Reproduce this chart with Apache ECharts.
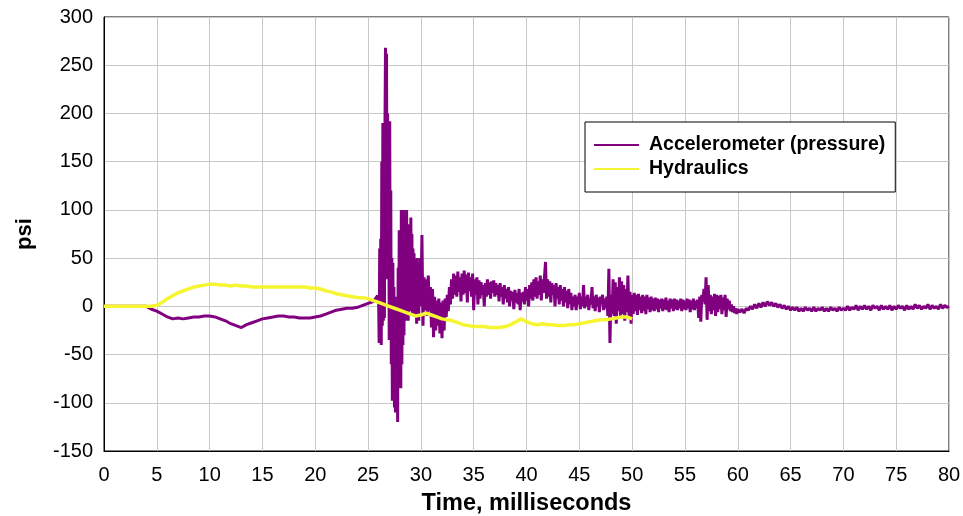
<!DOCTYPE html>
<html>
<head>
<meta charset="utf-8">
<script src="https://cdn.jsdelivr.net/npm/echarts@6/dist/echarts.min.js"></script>
<style>html,body{margin:0;padding:0;background:#fff}#c{width:963px;height:516px}</style>
</head>
<body>
<div id="c"></div>
<script>
// Tick labels
const xTicks = [0,5,10,15,20,25,30,35,40,45,50,55,60,65,70,75,80];
const yTicks = [-150,-100,-50,0,50,100,150,200,250,300];
const seriesNames = ['Accelerometer (pressure)', 'Hydraulics'];

// Accelerometer (pressure), psi — segment A: from 0 ms, every 0.5 ms
const accelStartA = 0, accelStepA = 0.5;
const accelA = [0,0,0,0,0,0,0,0,0,-3,-5,-8,-11,-13,-12,-13,-12,-11,-11,-10,
  -10,-11,-13,-15,-18,-20,-22,-19,-17,-15,-13,-12,-11,-10,-10,-11,-11,-12,-12,-12,
  -11,-10,-8,-6,-4,-3,-2,-2,-1,1,3,5];

// segment B1: from 25.6 ms, every 0.1 ms
const accelStartB1 = 25.6, accelStepB1 = 0.1;
const accelB1 = [6,8,8,11];

// segment B2 (main burst): from 26.0 ms, every 0.05 ms
const accelStartB2 = 26.0, accelStepB2 = 0.05;
const accelB2 = [
  5,-38,60,-30,70,-40,150,-20,190,-15,
  170,-12,185,268,40,262,28,200,30,190,
  -35,192,-20,120,-60,50,-98,45,-90,20,
  -105,10,-110,5,-100,0,-120,40,-80,79,
  -70,60,-85,100,-60,95,-40,100,-30,98,
  -10,90,-15,100,-5,80,-15,85,0,70,
  -5,92,10,75,-7,60,5,55,-10,48,
  5,45,-18,50,0,40,-15,45,2,50];

// segment B3: from 30.0 ms, every 0.1 ms
const accelStartB3 = 30.0, accelStepB3 = 0.1;
const accelB3 = [
  0,74,-20,30,-4,28,-10,32,-5,20,
  -22,18,-32,10,-25,6,-20,8,-28,4,
  -33,6,-25,8,-11,12,-5,20,2,28,
  8,34,12,32,10,36,15,30,5,34,
  12,37,14,33,4,35,16,30,10,34,
  -4,28,12,30,2,27,8,25,12,22,
  0,24,10,28,12,25,8,26,14,27,
  10,24,12,22,5,24,10,20,2,22,
  8,18,4,20,0,16,6,15,-3,17,
  4,14,2,18,-4,14,5,15,2,20,
  6,18,0,22,8,25,6,28,10,30,
  8,26,12,32,6,28,14,30,46,8,
  28,10,26,4,24,12,22,0,24,8,
  20,2,22,6,18,0,20,4,16,-2,
  18,2,14,-4,10,0,12,-4,10,2,
  14,-3,10,0,22,-2,10,0,12,-4,
  8,2,20,-2,10,-5,12,0,9,-6,
  10,2,12,-4,8,-2,10,-10,39,-38,
  12,-8,28,-10,25,-18,20,-5,30,-12,
  26,-8,22,-15,18,-6,32,-10,15,-18,
  12,-8,14,-5,12,-9,13,-4,10,-7,
  12,-5,10,-8,12,-3,9,-6,10,-4,
  8,-5,9,-3,8,-6,7,-2,8,-5,
  7,-3,9,-4,6,-6,8,-2,7,-5,
  8,-3,7,-4,6,-2,8,-5,7,-3,
  6,-4,8,-2,7,-6,6,-3,8,-4,
  6,-2,7,-12,10,-16,12,5,18,2,
  30,-14,22,-5,12,-8,10,-4,13,-10,
  12,-6,11,-3,12,-8,9,-4,12,-11,
  8,-3,6,-5,2,-6,0,-7,-2,-8];

// segment C: from 60 ms, every 0.2 ms
const accelStartC = 60, accelStepC = 0.2;
const accelC = [-3,-6,-3,-7,-2,-4,0,-3,2,-2,3,-1,4,0,5,1,4,0,3,-1,
  2,-2,1,-3,0,-4,-1,-4,-1,-5,-2,-5,-1,-4,-2,-5,-1,-5,-2,-4,
  -1,-5,-2,-5,-1,-4,-2,-5,-1,-4,-2,-4,0,-4,-1,-3,1,-4,0,-3,
  1,-3,0,-4,1,-2,0,-4,1,-3,0,-3,1,-4,0,-3,1,-2,0,-4,
  1,-3,0,-3,2,-2,1,-3,0,-2,2,-3,1,-2,0,-3,2,-2,1,-1,0];

// Hydraulics, psi — from 0 ms, every 0.5 ms
const hydStart = 0, hydStep = 0.5;
const hydraulics = [0,0,0,0,0,0,0,0,0,0,
  1,4,8,11,14,16,18,20,21,22,
  23,23,22,22,21,22,21,21,20,20,
  20,20,20,20,20,20,20,20,20,19,
  19,18,16,15,13,12,11,10,9,9,
  8,6,4,2,0,-2,-4,-6,-8,-10,
  -9,-7,-9,-11,-13,-14,-15,-17,-19,-20,
  -21,-21,-21,-22,-22,-22,-21,-19,-16,-13,
  -16,-18,-19,-18,-19,-19,-20,-20,-19,-19,
  -18,-17,-16,-15,-14,-14,-13,-12,-11,-11,
  -13];

function toPairs(start, step, vals) {
  return vals.map((v, i) => [+(start + i * step).toFixed(3), v]);
}
const accelData = [].concat(
  toPairs(accelStartA, accelStepA, accelA),
  toPairs(accelStartB1, accelStepB1, accelB1),
  toPairs(accelStartB2, accelStepB2, accelB2),
  toPairs(accelStartB3, accelStepB3, accelB3),
  toPairs(accelStartC, accelStepC, accelC));
const hydData = toPairs(hydStart, hydStep, hydraulics);

const FONT = "'Liberation Sans', Arial, sans-serif";
const chart = echarts.init(document.getElementById('c'), null, {renderer: 'canvas'});
chart.setOption({
  animation: false,
  backgroundColor: '#fff',
  grid: {left: 104, right: 14, top: 17, bottom: 65, show: true, borderColor: '#000', borderWidth: 1,
         backgroundColor: 'transparent', containLabel: false, outerBoundsMode: 'none'},
  xAxis: {
    type: 'value', min: xTicks[0], max: xTicks[xTicks.length - 1], interval: 5,
    name: 'Time, milliseconds', nameLocation: 'middle', nameGap: 41,
    nameTextStyle: {fontFamily: FONT, fontSize: 23.5, fontWeight: 'bold', color: '#000'},
    axisLine: {show: true, onZero: false, lineStyle: {color: '#000', width: 1}},
    axisTick: {show: false},
    axisLabel: {fontFamily: FONT, fontSize: 20, color: '#000', margin: 14},
    splitLine: {show: true, lineStyle: {color: '#c8c8c8', width: 1}}
  },
  yAxis: {
    type: 'value', min: yTicks[0], max: yTicks[yTicks.length - 1], interval: 50,
    name: 'psi', nameLocation: 'middle', nameGap: 68, nameRotate: 90,
    nameTextStyle: {fontFamily: FONT, fontSize: 22, fontWeight: 'bold', color: '#000'},
    axisLine: {show: true, lineStyle: {color: '#000', width: 1}},
    axisTick: {show: false},
    axisLabel: {fontFamily: FONT, fontSize: 20, color: '#000', margin: 11},
    splitLine: {show: true, lineStyle: {color: '#c8c8c8', width: 1}}
  },
  legend: {
    orient: 'vertical', left: 585, top: 122,
    padding: [13, 10, 13, 9], itemGap: 4,
    backgroundColor: '#fff', borderColor: '#000', borderWidth: 1,
    itemWidth: 45, itemHeight: 2, icon: 'rect',
    textStyle: {fontFamily: FONT, fontSize: 19.5, fontWeight: 'bold', color: '#000', padding: [0, 0, 0, 5], lineHeight: 19},
    data: seriesNames
  },
  series: [
    {name: seriesNames[0], type: 'line', data: accelData, showSymbol: false, symbol: 'none',
     sampling: null, color: '#800080', lineStyle: {color: '#800080', width: 3}, z: 2},
    {name: seriesNames[1], type: 'line', data: hydData, showSymbol: false, symbol: 'none',
     color: '#f5f532', lineStyle: {color: '#f5f532', width: 3.5}, z: 3}
  ]
});
</script>
</body>
</html>
